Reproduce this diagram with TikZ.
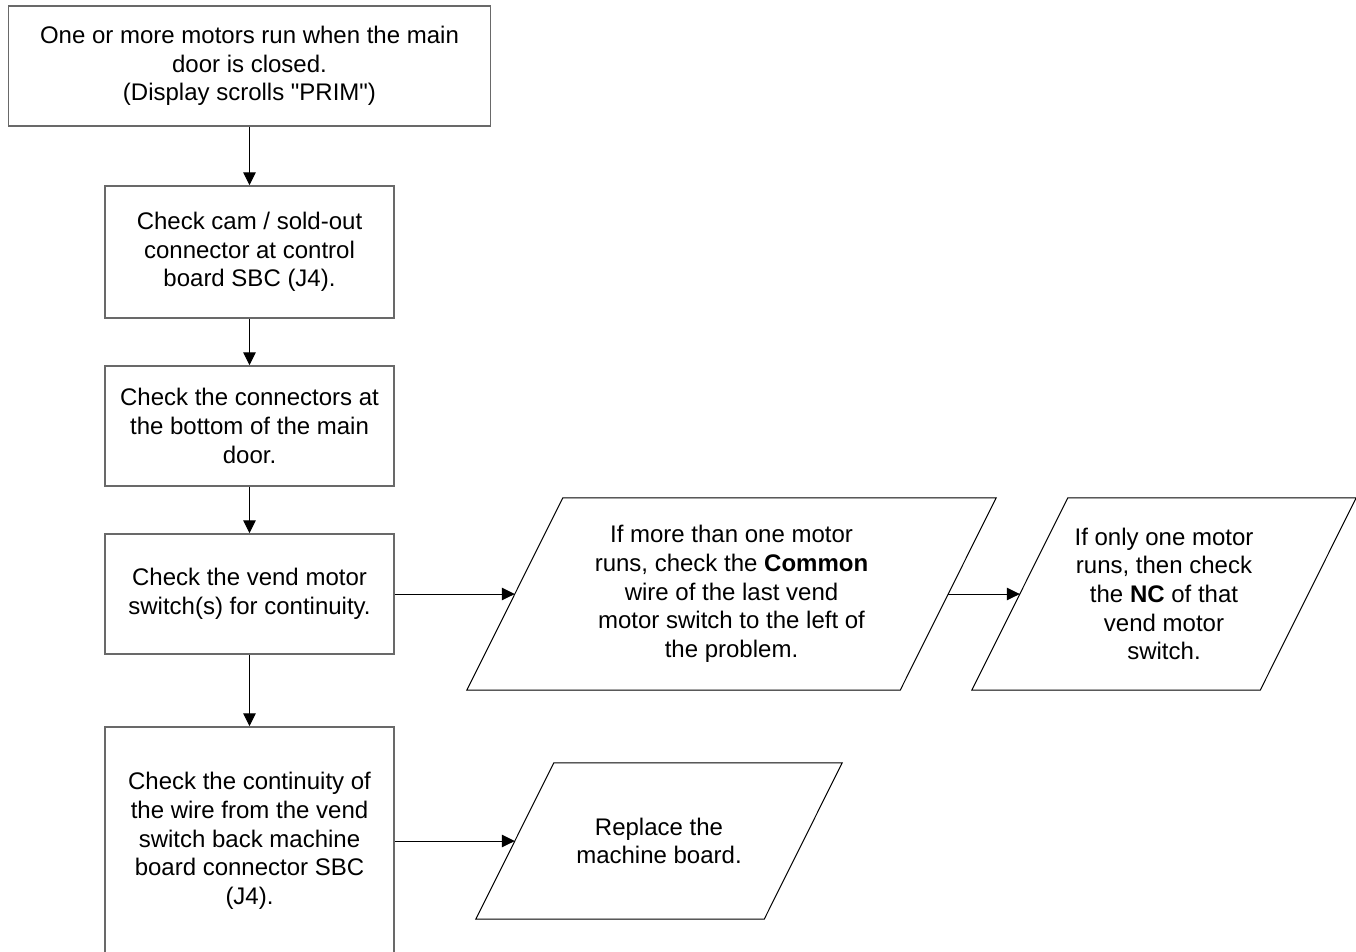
\documentclass[tikz,border=0pt]{standalone}
\usepackage{fontspec}
\setmainfont{Liberation Sans}[Ligatures=TeXOff]
\usetikzlibrary{arrows.meta}
\definecolor{boxgray}{RGB}{105,105,105}
\newcommand{\diagfont}{\fontsize{24}{28.7}\selectfont}
\begin{document}
\begin{tikzpicture}[x=1pt,y=-1pt,
  box/.style={draw=boxgray, line width=1.5pt, rectangle, inner sep=0pt, align=center, font=\diagfont},
  para/.style={rectangle, inner sep=0pt, align=center, font=\diagfont},
  paraline/.style={draw=black, line width=1pt, line join=miter},
  conn/.style={draw=black, line width=1pt, -{Triangle[length=13pt,width=12.5pt]}}]
\useasboundingbox (0,0) rectangle (1356,951);
\clip (0,0) rectangle (1356,951);
\node[box, minimum width=482pt, minimum height=120pt] (b1) at (249.5,66)
  {One or more motors run when the main\\door is closed.\\(Display scrolls "PRIM")};
\node[box, minimum width=289pt, minimum height=132pt] (b2) at (249.5,252)
  {Check cam / sold-out\\connector at control\\board SBC (J4).};
\node[box, minimum width=289pt, minimum height=120pt] (b3) at (249.5,426)
  {Check the connectors at\\the bottom of the main\\door.};
\node[box, minimum width=289pt, minimum height=120pt] (b4) at (249.5,594)
  {Check the vend motor\\switch(s) for continuity.};
\node[box, minimum width=289pt, minimum height=228pt] (b5) at (249.5,841)
  {Check the continuity of\\the wire from the vend\\switch back machine\\board connector SBC\\(J4).};
% parallelograms: text nodes are the un-slanted bodies
\node[para, minimum width=433pt, minimum height=192pt] (p1) at (731.5,594)
  {If more than one motor\\runs, check the \textbf{Common}\\wire of the last vend\\motor switch to the left of\\the problem.};
\draw[paraline] ([xshift=48pt]p1.north west) -- ([xshift=48pt]p1.north east)
  -- ([xshift=-48pt]p1.south east) -- ([xshift=-48pt]p1.south west) -- cycle;
\node[para, minimum width=288pt, minimum height=192pt] (p2) at (1164,594)
  {If only one motor\\runs, then check\\the \textbf{NC} of that\\vend motor\\switch.};
\draw[paraline] ([xshift=48pt]p2.north west) -- ([xshift=48pt]p2.north east)
  -- ([xshift=-48pt]p2.south east) -- ([xshift=-48pt]p2.south west) -- cycle;
\node[para, minimum width=288pt, minimum height=156pt] (p3) at (659,841)
  {Replace the\\machine board.};
\draw[paraline] ([xshift=39pt]p3.north west) -- ([xshift=39pt]p3.north east)
  -- ([xshift=-39pt]p3.south east) -- ([xshift=-39pt]p3.south west) -- cycle;
\draw[conn] (b1.south) -- (b2.north);
\draw[conn] (b2.south) -- (b3.north);
\draw[conn] (b3.south) -- (b4.north);
\draw[conn] (b4.south) -- (b5.north);
\draw[conn] (b4.east) -- (p1.west);
\draw[conn] (p1.east) -- (p2.west);
\draw[conn] (b5.east) -- (p3.west);
\end{tikzpicture}
\end{document}
